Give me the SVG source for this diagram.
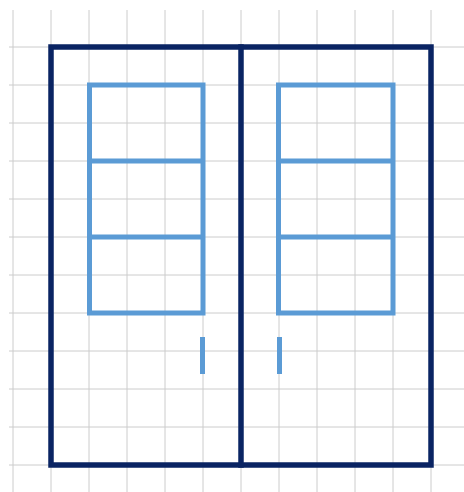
<svg xmlns="http://www.w3.org/2000/svg" width="464" height="492" viewBox="0 0 464 492">
<style>
.g{stroke:#cccccc;stroke-width:1;fill:none}
.f{stroke:#0a2463;stroke-width:5.5;fill:none;stroke-linecap:square}
.w{stroke:#5b9bd5;stroke-width:5;fill:none}
.h{stroke:#5b9bd5;stroke-width:5;fill:none}
</style>
<rect width="464" height="492" fill="#ffffff"/>
<g id="grid" class="g">
<path d="M13 10V492M51 10V492M89 10V492M127 10V492M165 10V492M203 10V492M241 10V492M279 10V492M317 10V492M355 10V492M393 10V492M431 10V492"/>
<path d="M9 47H464M9 85H464M9 123H464M9 161H464M9 199H464M9 237H464M9 275H464M9 313H464M9 351H464M9 389H464M9 427H464M9 465H464"/>
</g>
<g id="frame">
<rect class="f" x="51" y="47" width="380" height="418"/>
<line class="f" x1="241" y1="47" x2="241" y2="465"/>
</g>
<g id="left-window">
<rect class="w" x="89.5" y="85" width="113.5" height="228"/>
<line class="w" x1="89.5" y1="161" x2="203" y2="161"/>
<line class="w" x1="89.5" y1="237" x2="203" y2="237"/>
</g>
<g id="right-window">
<rect class="w" x="278.5" y="85" width="114.5" height="228"/>
<line class="w" x1="278.5" y1="161" x2="393" y2="161"/>
<line class="w" x1="278.5" y1="237" x2="393" y2="237"/>
</g>
<g id="handles">
<line class="h" x1="202.5" y1="337" x2="202.5" y2="374"/>
<line class="h" x1="279.5" y1="337" x2="279.5" y2="374"/>
</g>
</svg>
